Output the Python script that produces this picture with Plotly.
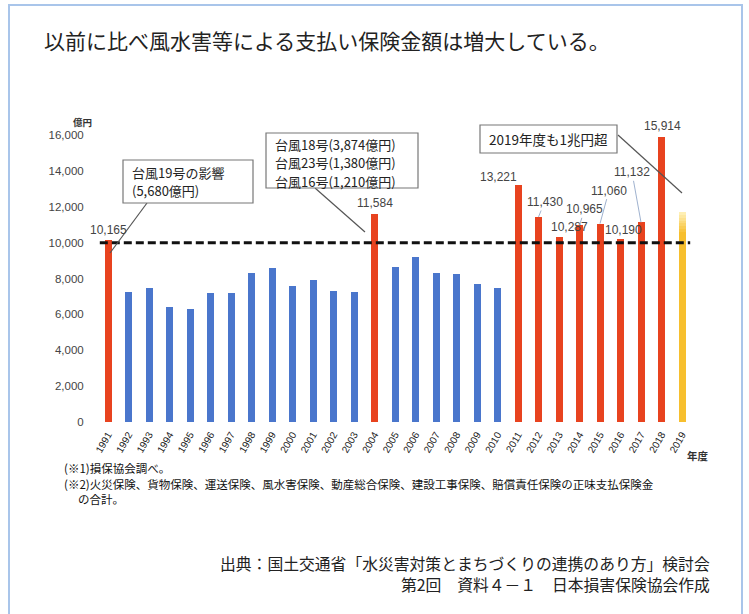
import plotly.graph_objects as go

W, H = 749, 614

# Fiscal years and insurance payouts (100 million yen)
years = [str(y) for y in range(1991, 2020)]
payouts = [10165, 7260, 7480, 6420, 6300, 7200, 7170, 8320, 8580, 7580,
           7910, 7300, 7240, 11584, 8640, 9190, 8300, 8250, 7690, 7470,
           13221, 11430, 10287, 10965, 11060, 10190, 11132, 15914]
payout_2019 = 11700          # fiscal 2019, preliminary estimate
threshold = 10000            # 1 trillion yen reference line

# label offsets (pixels) for the value labels: (dx, dy, leader line?)
label_years = ["1991", "2004", "2011", "2012", "2013", "2014", "2015", "2016", "2017", "2018"]
label_dx = [0, 0, -20, 6, 10, 5, 9, 3, -9, 1]
label_dy = [-10, -11, -8, -15, -10, -16, -33, -9, -50, -11]
label_leader = [False, False, False, True, False, True, True, False, True, False]

title_text = "以前に比べ風水害等による支払い保険金額は増大している。"
note_lines = ["(※1)損保協会調べ。",
              "(※2)火災保険、貨物保険、運送保険、風水害保険、動産総合保険、建設工事保険、賠償責任保険の正味支払保険金",
              "　 の合計。"]
source_lines = ["出典：国土交通省「水災害対策とまちづくりの連携のあり方」検討会",
                "第2回　資料４－１　日本損害保険協会作成"]
callout_1991 = ["台風19号の影響", "(5,680億円)"]
callout_2004 = ["台風18号(3,874億円)", "台風23号(1,380億円)", "台風16号(1,210億円)"]
callout_2019 = "2019年度も1兆円超"

RED = "#e8431f"
BLUE = "#4a76cc"
YELLOW = "#f7bf2e"
JP = "Noto Sans CJK JP"
NUM = "Liberation Sans, Arial"


def px(x):
    return x / W


def py(y):
    return 1 - y / H


fig = go.Figure()

bar_colors = [RED if v >= threshold else BLUE for v in payouts]
fig.add_trace(go.Bar(x=years[:-1], y=payouts, marker=dict(color=bar_colors, line=dict(width=0)),
                     width=0.34, showlegend=False, hoverinfo="x+y"))

# 2019 bar: solid body with a soft fade toward the top
fade_span = 1100
fade_steps = 7
fig.add_trace(go.Bar(x=["2019"], y=[payout_2019 - fade_span], width=0.34,
                     marker=dict(color=YELLOW, line=dict(width=0)), showlegend=False))
for k in range(fade_steps):
    t = (k + 1) / (fade_steps + 1)
    r = int(247 + (255 - 247) * t)
    g = int(191 + (246 - 191) * t)
    b = int(46 + (200 - 46) * t)
    fig.add_trace(go.Bar(x=["2019"], y=[fade_span / fade_steps], width=0.34,
                         marker=dict(color=f"rgb({r},{g},{b})", line=dict(width=0)),
                         showlegend=False, hoverinfo="skip"))

annotations = []

# value labels (category index used as x position)
for yr, dx, dy, lead in zip(label_years, label_dx, label_dy, label_leader):
    v = payouts[years.index(yr)]
    annotations.append(dict(
        x=years.index(yr), y=v, xref="x", yref="y", text=f"{v:,}", showarrow=True,
        ax=dx, ay=dy, arrowhead=0, arrowwidth=1, standoff=0, startstandoff=0,
        arrowcolor="#9fb2cf" if lead else "rgba(0,0,0,0)",
        font=dict(family=NUM, size=12, color="#444")))

# callout boxes: frame drawn as a shape, one text per line
box_font = dict(family=JP, size=13, color="#222")
callout_boxes = [
    # (left, top, right, bottom, text-left, first-line-y, line-step, lines)
    (123, 160, 253, 203, 130, 172, 18, callout_1991),
    (266, 133, 418, 188, 273, 144, 18.5, callout_2004),
]
box_shapes = []
for x0, y0, x1, y1, tx, ty, step, lines in callout_boxes:
    box_shapes.append(dict(type="rect", xref="paper", yref="paper",
                           x0=px(x0), y0=py(y0), x1=px(x1), y1=py(y1),
                           line=dict(color="#777", width=1.2), fillcolor="white", layer="above"))
    for i, line in enumerate(lines):
        annotations.append(dict(x=px(tx), y=py(ty + step * i), xref="paper", yref="paper",
                                xanchor="left", yanchor="middle", text=line, showarrow=False,
                                font=box_font))
box_shapes.append(dict(type="rect", xref="paper", yref="paper",
                       x0=px(480), y0=py(125), x1=px(617), y1=py(153),
                       line=dict(color="#777", width=1.2), fillcolor="white", layer="above"))
annotations.append(dict(x=px(548.5), y=py(139), xref="paper", yref="paper",
                        xanchor="center", yanchor="middle", text=callout_2019,
                        showarrow=False, font=dict(family=JP, size=13.5, color="#222")))

# title, units, notes, source
annotations += [
    dict(x=px(42), y=py(40), xref="paper", yref="paper", xanchor="left", yanchor="middle",
         text=title_text, showarrow=False, font=dict(family=JP, size=21, color="#222")),
    dict(x=px(82), y=py(122), xref="paper", yref="paper", xanchor="center", yanchor="middle",
         text="<b>億円</b>", showarrow=False, font=dict(family=JP, size=9.5, color="#333")),
    dict(x=px(698), y=py(455), xref="paper", yref="paper", xanchor="center", yanchor="middle",
         text="<b>年度</b>", showarrow=False, font=dict(family=JP, size=10.5, color="#333")),
]
for i, line in enumerate(note_lines):
    annotations.append(dict(x=px(62), y=py(468 + 15.5 * i), xref="paper", yref="paper",
                            xanchor="left", yanchor="middle", text=line, showarrow=False,
                            font=dict(family=JP, size=11.5, color="#111")))
for i, line in enumerate(source_lines):
    annotations.append(dict(x=px(712), y=py(563 + 21 * i), xref="paper", yref="paper",
                            xanchor="right", yanchor="middle", text=line, showarrow=False,
                            font=dict(family=JP, size=15.8, color="#222")))

shapes = [
    # outer frame
    dict(type="rect", xref="paper", yref="paper", x0=px(9), y0=py(5), x1=px(742), y1=py(640),
         line=dict(color="#a9c5ea", width=2)),
    # 1 trillion yen line
    dict(type="line", xref="x", yref="y", x0=-0.4, x1=28.4, y0=threshold, y1=threshold,
         line=dict(color="#111", width=3, dash="8px,4px"), layer="above"),
    # callout leader lines
    dict(type="line", xref="paper", yref="paper", x0=px(147), y0=py(203), x1=px(110), y1=py(253),
         line=dict(color="#555", width=1.2)),
    dict(type="line", xref="paper", yref="paper", x0=px(315), y0=py(188), x1=px(365), y1=py(232),
         line=dict(color="#555", width=1.2)),
    dict(type="line", xref="paper", yref="paper", x0=px(618), y0=py(135), x1=px(682), y1=py(193),
         line=dict(color="#555", width=1.2)),
] + box_shapes

fig.update_layout(
    width=W, height=H, margin=dict(l=0, r=0, t=0, b=0),
    paper_bgcolor="white", plot_bgcolor="white",
    barmode="stack", bargap=0, showlegend=False,
    annotations=annotations, shapes=shapes,
    xaxis=dict(type="category", domain=[px(97.75), px(692.25)], range=[-0.5, 28.5],
               categoryorder="array", categoryarray=years, tickangle=-60,
               showgrid=False, zeroline=False, showline=False, ticks="",
               ticklabelstandoff=4, automargin=False,
               tickfont=dict(family=NUM, size=10, color="#222")),
    yaxis=dict(domain=[py(422), py(135)], range=[0, 16000], tickvals=list(range(0, 16001, 2000)),
               tickformat=",d", showgrid=False, zeroline=False, showline=False, ticks="",
               ticklabelstandoff=13, automargin=False,
               tickfont=dict(family=NUM, size=11.5, color="#444")),
)

fig.write_html("out.html")
